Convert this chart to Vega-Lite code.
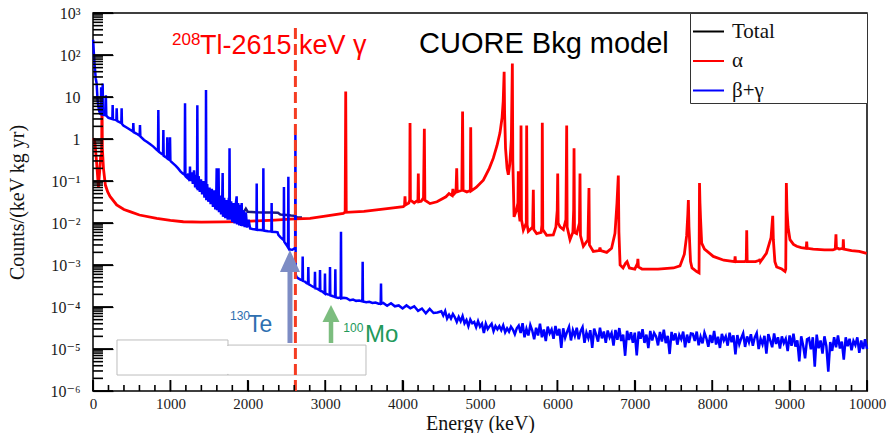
{
  "$schema": "https://vega.github.io/schema/vega-lite/v6.json",
  "width": 774,
  "height": 378,
  "autosize": {"type": "none"},
  "padding": {"left": 93, "top": 13, "right": 20, "bottom": 42},
  "background": "white",
  "resolve": {"axis": {"x": "independent", "y": "independent"}},
  "config": {
    "view": {"stroke": "#000", "strokeWidth": 1.5},
    "axis": {
      "grid": false,
      "domain": false,
      "ticks": true,
      "tickColor": "#000000",
      "tickOpacity": 1,
      "tickWidth": 1.2,
      "zindex": 1,
      "labelFont": "Liberation Serif, DejaVu Serif",
      "labelColor": "#1a1a1a",
      "titleFont": "Liberation Serif",
      "titleFontSize": 20,
      "titleFontWeight": "normal",
      "titleColor": "#111"
    },
    "legend": {
      "orient": "top-right",
      "offset": 0,
      "padding": 2,
      "strokeColor": "#333",
      "fillColor": "white",
      "symbolType": "stroke",
      "symbolSize": 961,
      "symbolStrokeWidth": 2,
      "labelFont": "Liberation Serif",
      "labelFontSize": 21,
      "labelColor": "#111",
      "labelOffset": 7,
      "labelLimit": 300,
      "rowPadding": 2.5
    }
  },
  "datasets": {
    "ymajor": [
      {"v": 0.000001}, {"v": 0.00001}, {"v": 0.0001}, {"v": 0.001}, {"v": 0.01},
      {"v": 0.1}, {"v": 1}, {"v": 10}, {"v": 100}, {"v": 1000}
    ],
    "yminor": [
      {"v": 0.000002}, {"v": 0.000003}, {"v": 0.000004}, {"v": 0.000005}, {"v": 0.000006}, {"v": 0.000007}, {"v": 0.000008}, {"v": 0.000009},
      {"v": 0.00002}, {"v": 0.00003}, {"v": 0.00004}, {"v": 0.00005}, {"v": 0.00006}, {"v": 0.00007}, {"v": 0.00008}, {"v": 0.00009},
      {"v": 0.0002}, {"v": 0.0003}, {"v": 0.0004}, {"v": 0.0005}, {"v": 0.0006}, {"v": 0.0007}, {"v": 0.0008}, {"v": 0.0009},
      {"v": 0.002}, {"v": 0.003}, {"v": 0.004}, {"v": 0.005}, {"v": 0.006}, {"v": 0.007}, {"v": 0.008}, {"v": 0.009},
      {"v": 0.02}, {"v": 0.03}, {"v": 0.04}, {"v": 0.05}, {"v": 0.06}, {"v": 0.07}, {"v": 0.08}, {"v": 0.09},
      {"v": 0.2}, {"v": 0.3}, {"v": 0.4}, {"v": 0.5}, {"v": 0.6}, {"v": 0.7}, {"v": 0.8}, {"v": 0.9},
      {"v": 2}, {"v": 3}, {"v": 4}, {"v": 5}, {"v": 6}, {"v": 7}, {"v": 8}, {"v": 9},
      {"v": 20}, {"v": 30}, {"v": 40}, {"v": 50}, {"v": 60}, {"v": 70}, {"v": 80}, {"v": 90},
      {"v": 200}, {"v": 300}, {"v": 400}, {"v": 500}, {"v": 600}, {"v": 700}, {"v": 800}, {"v": 900}
    ],
    "xmajor": [
      {"v": 0}, {"v": 1000}, {"v": 2000}, {"v": 3000}, {"v": 4000}, {"v": 5000},
      {"v": 6000}, {"v": 7000}, {"v": 8000}, {"v": 9000}, {"v": 10000}
    ],
    "xminor": [
      {"v": 200}, {"v": 400}, {"v": 600}, {"v": 800}, {"v": 1200}, {"v": 1400}, {"v": 1600}, {"v": 1800},
      {"v": 2200}, {"v": 2400}, {"v": 2600}, {"v": 2800}, {"v": 3200}, {"v": 3400}, {"v": 3600}, {"v": 3800},
      {"v": 4200}, {"v": 4400}, {"v": 4600}, {"v": 4800}, {"v": 5200}, {"v": 5400}, {"v": 5600}, {"v": 5800},
      {"v": 6200}, {"v": 6400}, {"v": 6600}, {"v": 6800}, {"v": 7200}, {"v": 7400}, {"v": 7600}, {"v": 7800},
      {"v": 8200}, {"v": 8400}, {"v": 8600}, {"v": 8800}, {"v": 9200}, {"v": 9400}, {"v": 9600}, {"v": 9800}
    ],
    "total": [
      {"E": 1650, "c": 0.028}, {"E": 1700, "c": 0.025}, {"E": 1750, "c": 0.023}, {"E": 1800, "c": 0.021},
      {"E": 1850, "c": 0.02}, {"E": 1880, "c": 0.022}, {"E": 1900, "c": 0.019}, {"E": 1950, "c": 0.0185},
      {"E": 1975, "c": 0.022}, {"E": 2000, "c": 0.0185}, {"E": 2100, "c": 0.018}, {"E": 2200, "c": 0.0178},
      {"E": 2300, "c": 0.0178}, {"E": 2390, "c": 0.0175}, {"E": 2420, "c": 0.016}, {"E": 2500, "c": 0.0155},
      {"E": 2560, "c": 0.015}, {"E": 2600, "c": 0.0148}, {"E": 2640, "c": 0.0135}, {"E": 2700, "c": 0.0135}
    ],
    "alpha": [
      {"E": 10, "c": 1.05, "s": "α"}, {"E": 25, "c": 0.8, "s": "α"}, {"E": 45, "c": 0.3, "s": "α"},
      {"E": 70, "c": 0.072, "s": "α"}, {"E": 85, "c": 0.16, "s": "α"}, {"E": 100, "c": 0.4, "s": "α"},
      {"E": 112, "c": 0.42, "s": "α"}, {"E": 116, "c": 13, "s": "α"}, {"E": 121, "c": 0.6, "s": "α"},
      {"E": 135, "c": 0.2, "s": "α"}, {"E": 160, "c": 0.08, "s": "α"}, {"E": 190, "c": 0.055, "s": "α"},
      {"E": 220, "c": 0.043, "s": "α"}, {"E": 306, "c": 0.027, "s": "α"}, {"E": 400, "c": 0.021, "s": "α"},
      {"E": 478, "c": 0.0186, "s": "α"}, {"E": 600, "c": 0.0155, "s": "α"}, {"E": 823, "c": 0.0129, "s": "α"},
      {"E": 1000, "c": 0.0115, "s": "α"}, {"E": 1167, "c": 0.0107, "s": "α"}, {"E": 1400, "c": 0.0105, "s": "α"},
      {"E": 1684, "c": 0.0106, "s": "α"}, {"E": 1900, "c": 0.0108, "s": "α"}, {"E": 2115, "c": 0.0112, "s": "α"},
      {"E": 2350, "c": 0.0117, "s": "α"}, {"E": 2545, "c": 0.0123, "s": "α"}, {"E": 2804, "c": 0.0129, "s": "α"},
      {"E": 3000, "c": 0.0145, "s": "α"}, {"E": 3234, "c": 0.017, "s": "α"}, {"E": 3258, "c": 0.018, "s": "α"},
      {"E": 3265, "c": 13.5, "s": "α"}, {"E": 3272, "c": 0.018, "s": "α"}, {"E": 3500, "c": 0.019, "s": "α"},
      {"E": 3800, "c": 0.022, "s": "α"}, {"E": 4009, "c": 0.0245, "s": "α"}, {"E": 4025, "c": 0.026, "s": "α"},
      {"E": 4031, "c": 0.043, "s": "α"}, {"E": 4037, "c": 0.027, "s": "α"}, {"E": 4080, "c": 0.03, "s": "α"},
      {"E": 4092, "c": 0.035, "s": "α"}, {"E": 4096, "c": 2.4, "s": "α"}, {"E": 4101, "c": 0.035, "s": "α"},
      {"E": 4150, "c": 0.03, "s": "α"}, {"E": 4198, "c": 0.035, "s": "α"}, {"E": 4203, "c": 0.15, "s": "α"},
      {"E": 4208, "c": 0.032, "s": "α"}, {"E": 4240, "c": 0.033, "s": "α"}, {"E": 4270, "c": 0.04, "s": "α"},
      {"E": 4281, "c": 1.75, "s": "α"}, {"E": 4288, "c": 0.035, "s": "α"}, {"E": 4354, "c": 0.029, "s": "α"},
      {"E": 4444, "c": 0.032, "s": "α"}, {"E": 4560, "c": 0.042, "s": "α"}, {"E": 4600, "c": 0.05, "s": "α"},
      {"E": 4640, "c": 0.045, "s": "α"}, {"E": 4650, "c": 0.065, "s": "α"}, {"E": 4660, "c": 0.048, "s": "α"},
      {"E": 4690, "c": 0.055, "s": "α"}, {"E": 4699, "c": 0.2, "s": "α"}, {"E": 4706, "c": 0.055, "s": "α"},
      {"E": 4765, "c": 0.06, "s": "α"}, {"E": 4775, "c": 4.5, "s": "α"}, {"E": 4782, "c": 0.06, "s": "α"},
      {"E": 4830, "c": 0.055, "s": "α"}, {"E": 4875, "c": 0.06, "s": "α"}, {"E": 4880, "c": 1.9, "s": "α"},
      {"E": 4886, "c": 0.058, "s": "α"}, {"E": 4950, "c": 0.07, "s": "α"}, {"E": 5043, "c": 0.105, "s": "α"},
      {"E": 5120, "c": 0.2, "s": "α"}, {"E": 5172, "c": 0.35, "s": "α"}, {"E": 5220, "c": 0.7, "s": "α"},
      {"E": 5258, "c": 1.4, "s": "α"}, {"E": 5285, "c": 3.2, "s": "α"}, {"E": 5300, "c": 8, "s": "α"},
      {"E": 5312, "c": 40, "s": "α"}, {"E": 5318, "c": 4, "s": "α"}, {"E": 5330, "c": 0.6, "s": "α"},
      {"E": 5350, "c": 0.2, "s": "α"}, {"E": 5366, "c": 0.14, "s": "α"}, {"E": 5385, "c": 0.25, "s": "α"},
      {"E": 5405, "c": 1.0, "s": "α"}, {"E": 5418, "c": 63, "s": "α"}, {"E": 5424, "c": 0.3, "s": "α"},
      {"E": 5440, "c": 0.014, "s": "α"}, {"E": 5470, "c": 0.02, "s": "α"}, {"E": 5490, "c": 0.03, "s": "α"},
      {"E": 5495, "c": 0.17, "s": "α"}, {"E": 5500, "c": 0.02, "s": "α"}, {"E": 5517, "c": 0.011, "s": "α"},
      {"E": 5526, "c": 0.02, "s": "α"}, {"E": 5530, "c": 2.1, "s": "α"}, {"E": 5536, "c": 0.012, "s": "α"},
      {"E": 5560, "c": 0.0068, "s": "α"}, {"E": 5598, "c": 0.01, "s": "α"}, {"E": 5603, "c": 2.1, "s": "α"},
      {"E": 5609, "c": 0.009, "s": "α"}, {"E": 5624, "c": 0.0063, "s": "α"}, {"E": 5680, "c": 0.008, "s": "α"},
      {"E": 5689, "c": 0.062, "s": "α"}, {"E": 5695, "c": 0.007, "s": "α"}, {"E": 5732, "c": 0.0056, "s": "α"},
      {"E": 5790, "c": 0.006, "s": "α"}, {"E": 5800, "c": 0.009, "s": "α"}, {"E": 5805, "c": 2.45, "s": "α"},
      {"E": 5811, "c": 0.007, "s": "α"}, {"E": 5861, "c": 0.0051, "s": "α"}, {"E": 5947, "c": 0.0052, "s": "α"},
      {"E": 5981, "c": 0.0081, "s": "α"}, {"E": 5998, "c": 0.02, "s": "α"}, {"E": 6004, "c": 0.15, "s": "α"},
      {"E": 6010, "c": 0.01, "s": "α"}, {"E": 6034, "c": 0.0081, "s": "α"}, {"E": 6077, "c": 0.007, "s": "α"},
      {"E": 6110, "c": 0.012, "s": "α"}, {"E": 6120, "c": 2.1, "s": "α"}, {"E": 6126, "c": 0.008, "s": "α"},
      {"E": 6163, "c": 0.004, "s": "α"}, {"E": 6200, "c": 0.006, "s": "α"}, {"E": 6210, "c": 0.02, "s": "α"},
      {"E": 6215, "c": 0.6, "s": "α"}, {"E": 6221, "c": 0.006, "s": "α"}, {"E": 6249, "c": 0.0056, "s": "α"},
      {"E": 6285, "c": 0.01, "s": "α"}, {"E": 6292, "c": 0.15, "s": "α"}, {"E": 6298, "c": 0.005, "s": "α"},
      {"E": 6335, "c": 0.0028, "s": "α"}, {"E": 6395, "c": 0.004, "s": "α"}, {"E": 6408, "c": 0.068, "s": "α"},
      {"E": 6414, "c": 0.003, "s": "α"}, {"E": 6464, "c": 0.0021, "s": "α"}, {"E": 6540, "c": 0.0022, "s": "α"},
      {"E": 6550, "c": 0.0026, "s": "α"}, {"E": 6560, "c": 0.0022, "s": "α"}, {"E": 6637, "c": 0.002, "s": "α"},
      {"E": 6700, "c": 0.0025, "s": "α"}, {"E": 6744, "c": 0.0057, "s": "α"}, {"E": 6770, "c": 0.03, "s": "α"},
      {"E": 6787, "c": 0.135, "s": "α"}, {"E": 6795, "c": 0.006, "s": "α"}, {"E": 6810, "c": 0.001, "s": "α"},
      {"E": 6848, "c": 0.00085, "s": "α"}, {"E": 6880, "c": 0.0011, "s": "α"}, {"E": 6900, "c": 0.0012, "s": "α"},
      {"E": 6930, "c": 0.00085, "s": "α"}, {"E": 7000, "c": 0.0008, "s": "α"}, {"E": 7035, "c": 0.0011, "s": "α"},
      {"E": 7040, "c": 0.0014, "s": "α"}, {"E": 7047, "c": 0.0009, "s": "α"}, {"E": 7093, "c": 0.0008, "s": "α"},
      {"E": 7300, "c": 0.0008, "s": "α"}, {"E": 7500, "c": 0.00085, "s": "α"}, {"E": 7584, "c": 0.00095, "s": "α"},
      {"E": 7640, "c": 0.0018, "s": "α"}, {"E": 7670, "c": 0.005, "s": "α"}, {"E": 7685, "c": 0.016, "s": "α"},
      {"E": 7692, "c": 0.035, "s": "α"}, {"E": 7700, "c": 0.008, "s": "α"}, {"E": 7720, "c": 0.0012, "s": "α"},
      {"E": 7739, "c": 0.00085, "s": "α"}, {"E": 7800, "c": 0.0007, "s": "α"}, {"E": 7830, "c": 0.00065, "s": "α"},
      {"E": 7836, "c": 0.089, "s": "α"}, {"E": 7842, "c": 0.03, "s": "α"}, {"E": 7850, "c": 0.012, "s": "α"},
      {"E": 7864, "c": 0.0033, "s": "α"}, {"E": 7900, "c": 0.0024, "s": "α"}, {"E": 8014, "c": 0.0016, "s": "α"},
      {"E": 8150, "c": 0.0013, "s": "α"}, {"E": 8290, "c": 0.0012, "s": "α"}, {"E": 8296, "c": 0.0016, "s": "α"},
      {"E": 8302, "c": 0.0012, "s": "α"}, {"E": 8420, "c": 0.0012, "s": "α"}, {"E": 8440, "c": 0.0013, "s": "α"},
      {"E": 8446, "c": 0.0067, "s": "α"}, {"E": 8452, "c": 0.0012, "s": "α"}, {"E": 8560, "c": 0.0012, "s": "α"},
      {"E": 8612, "c": 0.0013, "s": "α"}, {"E": 8618, "c": 0.0014, "s": "α"}, {"E": 8624, "c": 0.0012, "s": "α"},
      {"E": 8700, "c": 0.0019, "s": "α"}, {"E": 8760, "c": 0.0045, "s": "α"}, {"E": 8782, "c": 0.0148, "s": "α"},
      {"E": 8790, "c": 0.004, "s": "α"}, {"E": 8810, "c": 0.0012, "s": "α"}, {"E": 8833, "c": 0.0009, "s": "α"},
      {"E": 8900, "c": 0.0008, "s": "α"}, {"E": 8941, "c": 0.0007, "s": "α"}, {"E": 8950, "c": 0.0008, "s": "α"},
      {"E": 8958, "c": 0.09, "s": "α"}, {"E": 8966, "c": 0.02, "s": "α"}, {"E": 8980, "c": 0.008, "s": "α"},
      {"E": 9005, "c": 0.004, "s": "α"}, {"E": 9050, "c": 0.0031, "s": "α"}, {"E": 9092, "c": 0.0028, "s": "α"},
      {"E": 9150, "c": 0.0026, "s": "α"}, {"E": 9215, "c": 0.0025, "s": "α"}, {"E": 9221, "c": 0.0036, "s": "α"},
      {"E": 9227, "c": 0.0025, "s": "α"}, {"E": 9305, "c": 0.0024, "s": "α"}, {"E": 9450, "c": 0.0023, "s": "α"},
      {"E": 9560, "c": 0.0023, "s": "α"}, {"E": 9590, "c": 0.0024, "s": "α"}, {"E": 9599, "c": 0.0054, "s": "α"},
      {"E": 9605, "c": 0.0026, "s": "α"}, {"E": 9640, "c": 0.0024, "s": "α"}, {"E": 9690, "c": 0.0025, "s": "α"},
      {"E": 9694, "c": 0.0041, "s": "α"}, {"E": 9700, "c": 0.0024, "s": "α"}, {"E": 9800, "c": 0.0022, "s": "α"},
      {"E": 9900, "c": 0.0021, "s": "α"}, {"E": 9996, "c": 0.0019, "s": "α"}
    ],
    "beta": [
      {"E": 2, "c": 230, "s": "β+γ"}, {"E": 10, "c": 120, "s": "β+γ"}, {"E": 22, "c": 55, "s": "β+γ"},
      {"E": 35, "c": 28, "s": "β+γ"}, {"E": 47, "c": 21, "s": "β+γ"}, {"E": 58, "c": 9, "s": "β+γ"},
      {"E": 69, "c": 6, "s": "β+γ"}, {"E": 80, "c": 4.6, "s": "β+γ"}, {"E": 95, "c": 4.0, "s": "β+γ"},
      {"E": 102, "c": 4.0, "s": "β+γ"}, {"E": 105, "c": 17, "s": "β+γ"}, {"E": 109, "c": 3.9, "s": "β+γ"},
      {"E": 120, "c": 3.9, "s": "β+γ"}, {"E": 125, "c": 21, "s": "β+γ"}, {"E": 130, "c": 3.8, "s": "β+γ"},
      {"E": 160, "c": 3.7, "s": "β+γ"}, {"E": 166, "c": 11, "s": "β+γ"}, {"E": 172, "c": 3.6, "s": "β+γ"},
      {"E": 200, "c": 3.2, "s": "β+γ"}, {"E": 250, "c": 3.0, "s": "β+γ"}, {"E": 254, "c": 6.4, "s": "β+γ"},
      {"E": 258, "c": 3.0, "s": "β+γ"}, {"E": 302, "c": 2.8, "s": "β+γ"}, {"E": 306, "c": 5.4, "s": "β+γ"},
      {"E": 311, "c": 2.7, "s": "β+γ"}, {"E": 366, "c": 2.4, "s": "β+γ"}, {"E": 370, "c": 5.4, "s": "β+γ"},
      {"E": 374, "c": 2.3, "s": "β+γ"}, {"E": 392, "c": 2.1, "s": "β+γ"}, {"E": 450, "c": 1.8, "s": "β+γ"},
      {"E": 517, "c": 1.5, "s": "β+γ"}, {"E": 521, "c": 2.4, "s": "β+γ"}, {"E": 526, "c": 1.45, "s": "β+γ"},
      {"E": 560, "c": 1.35, "s": "β+γ"}, {"E": 603, "c": 1.2, "s": "β+γ"}, {"E": 607, "c": 2.15, "s": "β+γ"},
      {"E": 612, "c": 1.15, "s": "β+γ"}, {"E": 660, "c": 0.95, "s": "β+γ"}, {"E": 700, "c": 0.85, "s": "β+γ"},
      {"E": 740, "c": 0.75, "s": "β+γ"}, {"E": 780, "c": 0.66, "s": "β+γ"}, {"E": 823, "c": 0.55, "s": "β+γ"},
      {"E": 840, "c": 0.52, "s": "β+γ"}, {"E": 844, "c": 4.9, "s": "β+γ"}, {"E": 849, "c": 0.5, "s": "β+γ"},
      {"E": 880, "c": 0.45, "s": "β+γ"}, {"E": 905, "c": 0.42, "s": "β+γ"}, {"E": 909, "c": 1.64, "s": "β+γ"},
      {"E": 913, "c": 0.4, "s": "β+γ"}, {"E": 940, "c": 0.37, "s": "β+γ"}, {"E": 956, "c": 0.35, "s": "β+γ"},
      {"E": 960, "c": 1.1, "s": "β+γ"}, {"E": 964, "c": 0.34, "s": "β+γ"}, {"E": 990, "c": 0.32, "s": "β+γ"},
      {"E": 995, "c": 1.1, "s": "β+γ"}, {"E": 1000, "c": 0.3, "s": "β+γ"}, {"E": 1038, "c": 0.26, "s": "β+γ"},
      {"E": 1070, "c": 0.23, "s": "β+γ"}, {"E": 1100, "c": 0.2, "s": "β+γ"}, {"E": 1130, "c": 0.17, "s": "β+γ"},
      {"E": 1160, "c": 0.15, "s": "β+γ"}, {"E": 1185, "c": 0.14, "s": "β+γ"}, {"E": 1189, "c": 7.1, "s": "β+γ"},
      {"E": 1194, "c": 0.13, "s": "β+γ"}, {"E": 1215, "c": 0.12, "s": "β+γ"}, {"E": 1230, "c": 0.15, "s": "β+γ"},
      {"E": 1240, "c": 0.11, "s": "β+γ"}, {"E": 1249, "c": 0.1, "s": "β+γ"}, {"E": 1253, "c": 0.22, "s": "β+γ"},
      {"E": 1258, "c": 0.1, "s": "β+γ"}, {"E": 1275, "c": 0.16, "s": "β+γ"}, {"E": 1290, "c": 0.085, "s": "β+γ"},
      {"E": 1305, "c": 0.18, "s": "β+γ"}, {"E": 1320, "c": 0.07, "s": "β+γ"}, {"E": 1335, "c": 0.14, "s": "β+γ"},
      {"E": 1344, "c": 0.065, "s": "β+γ"}, {"E": 1348, "c": 6.4, "s": "β+γ"}, {"E": 1353, "c": 0.06, "s": "β+γ"},
      {"E": 1365, "c": 0.13, "s": "β+γ"}, {"E": 1380, "c": 0.055, "s": "β+γ"}, {"E": 1395, "c": 0.11, "s": "β+γ"},
      {"E": 1410, "c": 0.048, "s": "β+γ"}, {"E": 1425, "c": 0.1, "s": "β+γ"}, {"E": 1440, "c": 0.04, "s": "β+γ"},
      {"E": 1452, "c": 0.08, "s": "β+γ"}, {"E": 1457, "c": 0.04, "s": "β+γ"}, {"E": 1460, "c": 14.7, "s": "β+γ"},
      {"E": 1464, "c": 0.035, "s": "β+γ"}, {"E": 1475, "c": 0.085, "s": "β+γ"}, {"E": 1490, "c": 0.032, "s": "β+γ"},
      {"E": 1505, "c": 0.07, "s": "β+γ"}, {"E": 1520, "c": 0.028, "s": "β+γ"}, {"E": 1535, "c": 0.065, "s": "β+γ"},
      {"E": 1550, "c": 0.024, "s": "β+γ"}, {"E": 1565, "c": 0.06, "s": "β+γ"}, {"E": 1580, "c": 0.021, "s": "β+γ"},
      {"E": 1593, "c": 0.05, "s": "β+γ"}, {"E": 1598, "c": 0.2, "s": "β+γ"}, {"E": 1603, "c": 0.02, "s": "β+γ"},
      {"E": 1615, "c": 0.055, "s": "β+γ"}, {"E": 1622, "c": 0.2, "s": "β+γ"}, {"E": 1628, "c": 0.018, "s": "β+γ"},
      {"E": 1640, "c": 0.045, "s": "β+γ"}, {"E": 1655, "c": 0.016, "s": "β+γ"}, {"E": 1670, "c": 0.04, "s": "β+γ"},
      {"E": 1675, "c": 0.155, "s": "β+γ"}, {"E": 1680, "c": 0.014, "s": "β+γ"}, {"E": 1695, "c": 0.04, "s": "β+γ"},
      {"E": 1710, "c": 0.013, "s": "β+γ"}, {"E": 1725, "c": 0.035, "s": "β+γ"}, {"E": 1740, "c": 0.012, "s": "β+γ"},
      {"E": 1755, "c": 0.04, "s": "β+γ"}, {"E": 1760, "c": 0.012, "s": "β+γ"}, {"E": 1764, "c": 0.6, "s": "β+γ"},
      {"E": 1769, "c": 0.012, "s": "β+γ"}, {"E": 1785, "c": 0.033, "s": "β+γ"}, {"E": 1800, "c": 0.0105, "s": "β+γ"},
      {"E": 1815, "c": 0.03, "s": "β+γ"}, {"E": 1830, "c": 0.0098, "s": "β+γ"}, {"E": 1845, "c": 0.028, "s": "β+γ"},
      {"E": 1856, "c": 0.043, "s": "β+γ"}, {"E": 1862, "c": 0.0092, "s": "β+γ"}, {"E": 1875, "c": 0.03, "s": "β+γ"},
      {"E": 1890, "c": 0.0088, "s": "β+γ"}, {"E": 1905, "c": 0.027, "s": "β+γ"}, {"E": 1915, "c": 0.0085, "s": "β+γ"},
      {"E": 1921, "c": 0.03, "s": "β+γ"}, {"E": 1927, "c": 0.0084, "s": "β+γ"}, {"E": 1945, "c": 0.02, "s": "β+γ"},
      {"E": 1960, "c": 0.008, "s": "β+γ"}, {"E": 1975, "c": 0.018, "s": "β+γ"}, {"E": 1990, "c": 0.0078, "s": "β+γ"},
      {"E": 2010, "c": 0.012, "s": "β+γ"}, {"E": 2030, "c": 0.0074, "s": "β+γ"}, {"E": 2060, "c": 0.0072, "s": "β+γ"},
      {"E": 2100, "c": 0.007, "s": "β+γ"}, {"E": 2112, "c": 0.0069, "s": "β+γ"}, {"E": 2115, "c": 0.087, "s": "β+γ"},
      {"E": 2118, "c": 0.0069, "s": "β+γ"}, {"E": 2160, "c": 0.0068, "s": "β+γ"}, {"E": 2198, "c": 0.0067, "s": "β+γ"},
      {"E": 2201, "c": 0.2, "s": "β+γ"}, {"E": 2205, "c": 0.0066, "s": "β+γ"}, {"E": 2260, "c": 0.0064, "s": "β+γ"},
      {"E": 2305, "c": 0.0063, "s": "β+γ"}, {"E": 2308, "c": 0.03, "s": "β+γ"}, {"E": 2312, "c": 0.0062, "s": "β+γ"},
      {"E": 2360, "c": 0.0061, "s": "β+γ"}, {"E": 2385, "c": 0.006, "s": "β+γ"}, {"E": 2395, "c": 0.0052, "s": "β+γ"},
      {"E": 2420, "c": 0.0046, "s": "β+γ"}, {"E": 2459, "c": 0.004, "s": "β+γ"}, {"E": 2464, "c": 0.0039, "s": "β+γ"},
      {"E": 2467, "c": 0.072, "s": "β+γ"}, {"E": 2471, "c": 0.0036, "s": "β+γ"}, {"E": 2500, "c": 0.003, "s": "β+γ"},
      {"E": 2520, "c": 0.0026, "s": "β+γ"}, {"E": 2524, "c": 0.126, "s": "β+γ"}, {"E": 2528, "c": 0.0025, "s": "β+γ"},
      {"E": 2545, "c": 0.00234, "s": "β+γ"}, {"E": 2575, "c": 0.0023, "s": "β+γ"}, {"E": 2605, "c": 0.0025, "s": "β+γ"},
      {"E": 2612, "c": 0.0026, "s": "β+γ"}, {"E": 2615, "c": 1.25, "s": "β+γ"}, {"E": 2619, "c": 0.0006, "s": "β+γ"},
      {"E": 2630, "c": 0.00052, "s": "β+γ"}, {"E": 2653, "c": 0.00048, "s": "β+γ"}, {"E": 2680, "c": 0.00045, "s": "β+γ"},
      {"E": 2705, "c": 0.00043, "s": "β+γ"}, {"E": 2709, "c": 0.0016, "s": "β+γ"}, {"E": 2713, "c": 0.00042, "s": "β+γ"},
      {"E": 2740, "c": 0.0004, "s": "β+γ"}, {"E": 2760, "c": 0.00037, "s": "β+γ"}, {"E": 2778, "c": 0.00036, "s": "β+γ"},
      {"E": 2782, "c": 0.0009, "s": "β+γ"}, {"E": 2786, "c": 0.00035, "s": "β+γ"}, {"E": 2810, "c": 0.00033, "s": "β+γ"},
      {"E": 2846, "c": 0.0003, "s": "β+γ"}, {"E": 2864, "c": 0.00029, "s": "β+γ"}, {"E": 2868, "c": 0.00069, "s": "β+γ"},
      {"E": 2872, "c": 0.00028, "s": "β+γ"}, {"E": 2900, "c": 0.00027, "s": "β+γ"}, {"E": 2929, "c": 0.00025, "s": "β+γ"},
      {"E": 2933, "c": 0.00076, "s": "β+γ"}, {"E": 2937, "c": 0.00025, "s": "β+γ"}, {"E": 2965, "c": 0.00023, "s": "β+γ"},
      {"E": 2993, "c": 0.00021, "s": "β+γ"}, {"E": 2997, "c": 0.00063, "s": "β+γ"}, {"E": 3001, "c": 0.00021, "s": "β+γ"},
      {"E": 3030, "c": 0.0002, "s": "β+γ"}, {"E": 3058, "c": 0.000195, "s": "β+γ"}, {"E": 3062, "c": 0.0009, "s": "β+γ"},
      {"E": 3066, "c": 0.00019, "s": "β+γ"}, {"E": 3100, "c": 0.00018, "s": "β+γ"}, {"E": 3127, "c": 0.000175, "s": "β+γ"},
      {"E": 3131, "c": 0.00079, "s": "β+γ"}, {"E": 3135, "c": 0.00017, "s": "β+γ"}, {"E": 3170, "c": 0.000165, "s": "β+γ"},
      {"E": 3200, "c": 0.00017, "s": "β+γ"}, {"E": 3204, "c": 0.0062, "s": "β+γ"}, {"E": 3208, "c": 0.00016, "s": "β+γ"},
      {"E": 3240, "c": 0.000165, "s": "β+γ"}, {"E": 3277, "c": 0.000162, "s": "β+γ"}, {"E": 3320, "c": 0.000145, "s": "β+γ"},
      {"E": 3360, "c": 0.00015, "s": "β+γ"}, {"E": 3400, "c": 0.00014, "s": "β+γ"}, {"E": 3440, "c": 0.000142, "s": "β+γ"},
      {"E": 3480, "c": 0.000136, "s": "β+γ"}, {"E": 3484, "c": 0.0012, "s": "β+γ"}, {"E": 3488, "c": 0.000135, "s": "β+γ"},
      {"E": 3530, "c": 0.00013, "s": "β+γ"}, {"E": 3570, "c": 0.000133, "s": "β+γ"}, {"E": 3610, "c": 0.000125, "s": "β+γ"},
      {"E": 3650, "c": 0.000128, "s": "β+γ"}, {"E": 3690, "c": 0.00012, "s": "β+γ"}, {"E": 3717, "c": 0.00012, "s": "β+γ"},
      {"E": 3721, "c": 0.00036, "s": "β+γ"}, {"E": 3725, "c": 0.00012, "s": "β+γ"}, {"E": 3750, "c": 0.000125, "s": "β+γ"},
      {"E": 3800, "c": 0.000107, "s": "β+γ"}, {"E": 3850, "c": 0.000123, "s": "β+γ"}, {"E": 3900, "c": 0.000104, "s": "β+γ"},
      {"E": 3950, "c": 0.000109, "s": "β+γ"}, {"E": 4000, "c": 0.000092, "s": "β+γ"}, {"E": 4050, "c": 0.000109, "s": "β+γ"},
      {"E": 4100, "c": 0.000093, "s": "β+γ"}, {"E": 4150, "c": 0.000104, "s": "β+γ"}, {"E": 4200, "c": 0.000081, "s": "β+γ"},
      {"E": 4250, "c": 0.000092, "s": "β+γ"}, {"E": 4300, "c": 0.000071, "s": "β+γ"}, {"E": 4350, "c": 0.00009, "s": "β+γ"},
      {"E": 4400, "c": 0.000072, "s": "β+γ"}, {"E": 4450, "c": 0.000074, "s": "β+γ"},
      {"E": 4500, "c": 0.000079, "s": "β+γ"}, {"E": 4525, "c": 0.000063, "s": "β+γ"}, {"E": 4550, "c": 0.00008, "s": "β+γ"},
      {"E": 4575, "c": 0.000053, "s": "β+γ"}, {"E": 4600, "c": 0.000065, "s": "β+γ"}, {"E": 4625, "c": 0.000053, "s": "β+γ"},
      {"E": 4650, "c": 0.000068, "s": "β+γ"}, {"E": 4675, "c": 0.000057, "s": "β+γ"}, {"E": 4700, "c": 0.000044, "s": "β+γ"},
      {"E": 4725, "c": 0.000058, "s": "β+γ"}, {"E": 4750, "c": 0.000046, "s": "β+γ"}, {"E": 4775, "c": 0.000061, "s": "β+γ"},
      {"E": 4800, "c": 0.000041, "s": "β+γ"}, {"E": 4825, "c": 0.000049, "s": "β+γ"}, {"E": 4850, "c": 0.000035, "s": "β+γ"},
      {"E": 4875, "c": 0.00005, "s": "β+γ"}, {"E": 4900, "c": 0.000041, "s": "β+γ"}, {"E": 4925, "c": 0.000044, "s": "β+γ"},
      {"E": 4950, "c": 0.000033, "s": "β+γ"}, {"E": 4975, "c": 0.000046, "s": "β+γ"}, {"E": 5000, "c": 0.000034, "s": "β+γ"},
      {"E": 5025, "c": 0.00004, "s": "β+γ"}, {"E": 5050, "c": 0.000024, "s": "β+γ"}, {"E": 5075, "c": 0.00004, "s": "β+γ"},
      {"E": 5100, "c": 0.00003, "s": "β+γ"}, {"E": 5125, "c": 0.000035, "s": "β+γ"}, {"E": 5150, "c": 0.00004, "s": "β+γ"},
      {"E": 5175, "c": 0.0000265, "s": "β+γ"}, {"E": 5200, "c": 0.000035, "s": "β+γ"}, {"E": 5225, "c": 0.0000295, "s": "β+γ"},
      {"E": 5250, "c": 0.000035, "s": "β+γ"}, {"E": 5275, "c": 0.000028, "s": "β+γ"}, {"E": 5300, "c": 0.0000365, "s": "β+γ"},
      {"E": 5325, "c": 0.000025, "s": "β+γ"}, {"E": 5350, "c": 0.000031, "s": "β+γ"}, {"E": 5375, "c": 0.000026, "s": "β+γ"},
      {"E": 5400, "c": 0.000034, "s": "β+γ"}, {"E": 5425, "c": 0.000029, "s": "β+γ"}, {"E": 5450, "c": 0.0000225, "s": "β+γ"},
      {"E": 5475, "c": 0.000031, "s": "β+γ"}, {"E": 5500, "c": 0.000036, "s": "β+γ"}, {"E": 5525, "c": 0.000024, "s": "β+γ"},
      {"E": 5550, "c": 0.000041, "s": "β+γ"}, {"E": 5575, "c": 0.000019, "s": "β+γ"}, {"E": 5600, "c": 0.00003, "s": "β+γ"},
      {"E": 5625, "c": 0.000021, "s": "β+γ"}, {"E": 5650, "c": 0.000037, "s": "β+γ"}, {"E": 5675, "c": 0.0000275, "s": "β+γ"},
      {"E": 5700, "c": 0.000017, "s": "β+γ"}, {"E": 5725, "c": 0.000032, "s": "β+γ"}, {"E": 5750, "c": 0.000021, "s": "β+γ"},
      {"E": 5775, "c": 0.00004, "s": "β+γ"}, {"E": 5800, "c": 0.000019, "s": "β+γ"}, {"E": 5825, "c": 0.000029, "s": "β+γ"},
      {"E": 5850, "c": 0.0000155, "s": "β+γ"}, {"E": 5875, "c": 0.000034, "s": "β+γ"}, {"E": 5900, "c": 0.0000235, "s": "β+γ"},
      {"E": 5925, "c": 0.000029, "s": "β+γ"}, {"E": 5950, "c": 0.0000175, "s": "β+γ"}, {"E": 5975, "c": 0.0000355, "s": "β+γ"},
      {"E": 6000, "c": 0.000021, "s": "β+γ"}, {"E": 6025, "c": 0.00003, "s": "β+γ"}, {"E": 6050, "c": 0.0000107, "s": "β+γ"},
      {"E": 6075, "c": 0.000031, "s": "β+γ"}, {"E": 6100, "c": 0.0000185, "s": "β+γ"}, {"E": 6125, "c": 0.0000255, "s": "β+γ"},
      {"E": 6150, "c": 0.0000335, "s": "β+γ"}, {"E": 6175, "c": 0.000016, "s": "β+γ"}, {"E": 6200, "c": 0.000028, "s": "β+γ"},
      {"E": 6225, "c": 0.0000205, "s": "β+γ"}, {"E": 6250, "c": 0.000032, "s": "β+γ"}, {"E": 6275, "c": 0.000017, "s": "β+γ"},
      {"E": 6300, "c": 0.0000265, "s": "β+γ"}, {"E": 6325, "c": 0.000033, "s": "β+γ"}, {"E": 6350, "c": 0.000014, "s": "β+γ"},
      {"E": 6375, "c": 0.0000245, "s": "β+γ"}, {"E": 6400, "c": 0.000018, "s": "β+γ"}, {"E": 6425, "c": 0.000028, "s": "β+γ"},
      {"E": 6450, "c": 0.0000107, "s": "β+γ"}, {"E": 6475, "c": 0.0000305, "s": "β+γ"}, {"E": 6500, "c": 0.000022, "s": "β+γ"},
      {"E": 6525, "c": 0.000015, "s": "β+γ"}, {"E": 6550, "c": 0.000032, "s": "β+γ"}, {"E": 6575, "c": 0.000018, "s": "β+γ"},
      {"E": 6600, "c": 0.000026, "s": "β+γ"}, {"E": 6625, "c": 0.000014, "s": "β+γ"}, {"E": 6650, "c": 0.0000275, "s": "β+γ"},
      {"E": 6675, "c": 0.000019, "s": "β+γ"}, {"E": 6700, "c": 0.000024, "s": "β+γ"}, {"E": 6725, "c": 0.000012, "s": "β+γ"},
      {"E": 6750, "c": 0.0000285, "s": "β+γ"}, {"E": 6775, "c": 0.0000165, "s": "β+γ"}, {"E": 6800, "c": 0.0000315, "s": "β+γ"},
      {"E": 6825, "c": 0.0000155, "s": "β+γ"}, {"E": 6850, "c": 0.000022, "s": "β+γ"}, {"E": 6875, "c": 0.0000069, "s": "β+γ"},
      {"E": 6900, "c": 0.000027, "s": "β+γ"}, {"E": 6925, "c": 0.0000165, "s": "β+γ"}, {"E": 6950, "c": 0.000025, "s": "β+γ"},
      {"E": 6975, "c": 0.000014, "s": "β+γ"}, {"E": 7000, "c": 0.0000245, "s": "β+γ"}, {"E": 7025, "c": 0.000007, "s": "β+γ"},
      {"E": 7050, "c": 0.000026, "s": "β+γ"}, {"E": 7075, "c": 0.0000175, "s": "β+γ"}, {"E": 7100, "c": 0.0000295, "s": "β+γ"},
      {"E": 7125, "c": 0.000014, "s": "β+γ"}, {"E": 7150, "c": 0.000022, "s": "β+γ"}, {"E": 7175, "c": 0.0000105, "s": "β+γ"},
      {"E": 7200, "c": 0.000027, "s": "β+γ"}, {"E": 7225, "c": 0.000016, "s": "β+γ"}, {"E": 7250, "c": 0.000024, "s": "β+γ"},
      {"E": 7275, "c": 0.00002, "s": "β+γ"}, {"E": 7300, "c": 0.0000122, "s": "β+γ"}, {"E": 7325, "c": 0.0000255, "s": "β+γ"},
      {"E": 7350, "c": 0.000015, "s": "β+γ"}, {"E": 7375, "c": 0.000029, "s": "β+γ"}, {"E": 7400, "c": 0.0000138, "s": "β+γ"},
      {"E": 7425, "c": 0.0000205, "s": "β+γ"}, {"E": 7450, "c": 0.0000076, "s": "β+γ"}, {"E": 7475, "c": 0.0000255, "s": "β+γ"},
      {"E": 7500, "c": 0.000016, "s": "β+γ"}, {"E": 7525, "c": 0.0000235, "s": "β+γ"}, {"E": 7550, "c": 0.0000127, "s": "β+γ"},
      {"E": 7575, "c": 0.0000215, "s": "β+γ"}, {"E": 7600, "c": 0.000017, "s": "β+γ"}, {"E": 7625, "c": 0.000026, "s": "β+γ"},
      {"E": 7650, "c": 0.000011, "s": "β+γ"}, {"E": 7675, "c": 0.000022, "s": "β+γ"}, {"E": 7700, "c": 0.000014, "s": "β+γ"},
      {"E": 7725, "c": 0.0000235, "s": "β+γ"}, {"E": 7750, "c": 0.000023, "s": "β+γ"}, {"E": 7775, "c": 0.0000155, "s": "β+γ"},
      {"E": 7800, "c": 0.000026, "s": "β+γ"}, {"E": 7825, "c": 0.0000123, "s": "β+γ"}, {"E": 7850, "c": 0.0000195, "s": "β+γ"},
      {"E": 7875, "c": 0.0000136, "s": "β+γ"}, {"E": 7900, "c": 0.0000245, "s": "β+γ"}, {"E": 7925, "c": 0.000018, "s": "β+γ"},
      {"E": 7950, "c": 0.0000113, "s": "β+γ"}, {"E": 7975, "c": 0.0000215, "s": "β+γ"}, {"E": 8000, "c": 0.000014, "s": "β+γ"},
      {"E": 8025, "c": 0.000027, "s": "β+γ"}, {"E": 8050, "c": 0.0000128, "s": "β+γ"}, {"E": 8075, "c": 0.0000195, "s": "β+γ"},
      {"E": 8100, "c": 0.0000106, "s": "β+γ"}, {"E": 8125, "c": 0.000023, "s": "β+γ"}, {"E": 8150, "c": 0.000016, "s": "β+γ"},
      {"E": 8175, "c": 0.00002, "s": "β+γ"}, {"E": 8200, "c": 0.000012, "s": "β+γ"}, {"E": 8225, "c": 0.0000245, "s": "β+γ"},
      {"E": 8250, "c": 0.0000145, "s": "β+γ"}, {"E": 8275, "c": 0.000021, "s": "β+γ"}, {"E": 8300, "c": 0.0000074, "s": "β+γ"},
      {"E": 8325, "c": 0.0000215, "s": "β+γ"}, {"E": 8350, "c": 0.000013, "s": "β+γ"}, {"E": 8375, "c": 0.000018, "s": "β+γ"},
      {"E": 8400, "c": 0.0000235, "s": "β+γ"}, {"E": 8425, "c": 0.0000112, "s": "β+γ"}, {"E": 8450, "c": 0.00002, "s": "β+γ"},
      {"E": 8475, "c": 0.0000145, "s": "β+γ"}, {"E": 8500, "c": 0.0000225, "s": "β+γ"}, {"E": 8525, "c": 0.000012, "s": "β+γ"},
      {"E": 8550, "c": 0.000019, "s": "β+γ"}, {"E": 8575, "c": 0.000024, "s": "β+γ"}, {"E": 8600, "c": 0.00001, "s": "β+γ"},
      {"E": 8625, "c": 0.0000175, "s": "β+γ"}, {"E": 8650, "c": 0.000013, "s": "β+γ"}, {"E": 8675, "c": 0.0000205, "s": "β+γ"},
      {"E": 8700, "c": 0.0000078, "s": "β+γ"}, {"E": 8725, "c": 0.0000225, "s": "β+γ"}, {"E": 8750, "c": 0.000016, "s": "β+γ"},
      {"E": 8775, "c": 0.000011, "s": "β+γ"}, {"E": 8800, "c": 0.0000235, "s": "β+γ"}, {"E": 8825, "c": 0.0000132, "s": "β+γ"},
      {"E": 8850, "c": 0.000019, "s": "β+γ"}, {"E": 8875, "c": 0.0000103, "s": "β+γ"}, {"E": 8900, "c": 0.00002, "s": "β+γ"},
      {"E": 8925, "c": 0.0000138, "s": "β+γ"}, {"E": 8950, "c": 0.0000175, "s": "β+γ"}, {"E": 8975, "c": 0.0000089, "s": "β+γ"},
      {"E": 9000, "c": 0.000021, "s": "β+γ"}, {"E": 9025, "c": 0.000012, "s": "β+γ"}, {"E": 9050, "c": 0.000023, "s": "β+γ"},
      {"E": 9075, "c": 0.0000114, "s": "β+γ"}, {"E": 9100, "c": 0.000016, "s": "β+γ"}, {"E": 9125, "c": 0.0000051, "s": "β+γ"},
      {"E": 9150, "c": 0.00002, "s": "β+γ"}, {"E": 9175, "c": 0.0000122, "s": "β+γ"}, {"E": 9200, "c": 0.000006, "s": "β+γ"},
      {"E": 9225, "c": 0.000017, "s": "β+γ"}, {"E": 9250, "c": 0.000018, "s": "β+γ"}, {"E": 9275, "c": 0.0000098, "s": "β+γ"},
      {"E": 9300, "c": 0.000019, "s": "β+γ"}, {"E": 9325, "c": 0.0000038, "s": "β+γ"}, {"E": 9350, "c": 0.000022, "s": "β+γ"},
      {"E": 9375, "c": 0.0000104, "s": "β+γ"}, {"E": 9400, "c": 0.000016, "s": "β+γ"}, {"E": 9425, "c": 0.0000078, "s": "β+γ"},
      {"E": 9450, "c": 0.00002, "s": "β+γ"}, {"E": 9475, "c": 0.0000117, "s": "β+γ"}, {"E": 9500, "c": 0.0000029, "s": "β+γ"},
      {"E": 9525, "c": 0.0000147, "s": "β+γ"}, {"E": 9550, "c": 0.000009, "s": "β+γ"}, {"E": 9575, "c": 0.000019, "s": "β+γ"},
      {"E": 9600, "c": 0.000011, "s": "β+γ"}, {"E": 9625, "c": 0.000021, "s": "β+γ"}, {"E": 9650, "c": 0.0000103, "s": "β+γ"},
      {"E": 9675, "c": 0.000015, "s": "β+γ"}, {"E": 9700, "c": 0.0000056, "s": "β+γ"}, {"E": 9725, "c": 0.000019, "s": "β+γ"},
      {"E": 9750, "c": 0.0000117, "s": "β+γ"}, {"E": 9775, "c": 0.0000175, "s": "β+γ"}, {"E": 9800, "c": 0.0000093, "s": "β+γ"},
      {"E": 9825, "c": 0.0000156, "s": "β+γ"}, {"E": 9850, "c": 0.0000124, "s": "β+γ"}, {"E": 9875, "c": 0.000019, "s": "β+γ"},
      {"E": 9900, "c": 0.0000081, "s": "β+γ"}, {"E": 9925, "c": 0.000016, "s": "β+γ"}, {"E": 9950, "c": 0.00001, "s": "β+γ"},
      {"E": 9975, "c": 0.000017, "s": "β+γ"}, {"E": 10000, "c": 0.00001, "s": "β+γ"}
    ],
    "box": [
      {"E": 310, "E2": 1744, "c": 0.0000024, "c2": 0.0000164},
      {"E": 1744, "E2": 3527, "c": 0.0000024, "c2": 0.0000124}
    ],
    "boxjoin": [
      {"E": 1725, "E2": 1765, "c": 0.00000255, "c2": 0.0000118}
    ],
    "tl208": [
      {"E": 2615, "c": 0.000001, "c2": 520}
    ],
    "arrows": [
      {"a": "Te", "E": 2545, "c": 0.0000139, "c2": 0.00085, "tip": 0.00228},
      {"a": "Mo", "E": 3075, "c": 0.0000139, "c2": 0.0000547, "tip": 0.000112}
    ],
    "notes": [
      {"k": "tl_sup", "E": 1021, "c": 173, "t": "208"},
      {"k": "tl", "E": 1382, "c": 105.7, "t": "Tl-2615 keV γ"},
      {"k": "cuore", "E": 4212, "c": 110, "t": "CUORE Bkg model"},
      {"k": "te_sup", "E": 1770, "c": 0.000049, "t": "130"},
      {"k": "te", "E": 2003, "c": 0.0000254, "t": "Te"},
      {"k": "mo_sup", "E": 3234, "c": 0.0000258, "t": "100"},
      {"k": "mo", "E": 3514, "c": 0.0000149, "t": "Mo"}
    ]
  },
  "layer": [
    {
      "data": {"name": "total"},
      "mark": {"type": "line", "color": "#1b1b7d", "strokeWidth": 2.5},
      "encoding": {
        "x": {
          "field": "E",
          "type": "quantitative",
          "scale": {"domain": [0, 10000], "nice": false, "zero": false},
          "axis": {
            "orient": "bottom",
            "title": "Energy (keV)",
            "values": [0, 1000, 2000, 3000, 4000, 5000, 6000, 7000, 8000, 9000, 10000],
            "format": "d",
            "labelFontSize": 15,
            "labelOverlap": false,
            "labelFlush": false,
            "offset": -11,
            "tickSize": 11,
            "labelPadding": 5,
            "titlePadding": 2
          }
        },
        "y": {
          "field": "c",
          "type": "quantitative",
          "scale": {"type": "log", "domain": [0.000001, 1000], "nice": false},
          "axis": {
            "orient": "left",
            "title": "Counts/(keV kg yr)",
            "values": [0.000001, 0.00001, 0.0001, 0.001, 0.01, 0.1, 1, 10, 100, 1000],
            "labelExpr": "['10⁻⁶','10⁻⁵','10⁻⁴','10⁻³','10⁻²','10⁻¹','1','10','10²','10³'][round(log(datum.value)/LN10) + 6]",
            "labelFontSize": 16,
            "labelOverlap": false,
            "labelFlush": false,
            "offset": -20,
            "tickSize": 20,
            "labelPadding": 13,
            "titlePadding": 22
          }
        }
      }
    },
    {
      "data": {"name": "alpha"},
      "mark": {"type": "line", "strokeWidth": 2.8},
      "encoding": {
        "x": {"field": "E", "type": "quantitative", "axis": null},
        "y": {"field": "c", "type": "quantitative", "axis": null},
        "color": {
          "field": "s",
          "type": "nominal",
          "scale": {"domain": ["Total", "α", "β+γ"], "range": ["#000000", "#ff0000", "#0000ff"]},
          "legend": {
            "title": null,
            "labelExpr": "datum.label + '\u00a0\u00a0\u00a0\u00a0\u00a0\u00a0\u00a0\u00a0\u00a0\u00a0\u00a0\u00a0\u00a0\u00a0\u00a0\u00a0\u00a0\u200b'"
          }
        }
      }
    },
    {
      "data": {"name": "beta"},
      "mark": {"type": "line", "strokeWidth": 2.5},
      "encoding": {
        "x": {"field": "E", "type": "quantitative", "axis": null},
        "y": {"field": "c", "type": "quantitative", "axis": null},
        "color": {"field": "s", "type": "nominal"}
      }
    },
    {
      "data": {"name": "box"},
      "mark": {"type": "rect", "fill": "white", "stroke": "#bdbdbd", "strokeWidth": 1},
      "encoding": {
        "x": {"field": "E", "type": "quantitative", "axis": null},
        "x2": {"field": "E2"},
        "y": {"field": "c", "type": "quantitative", "axis": null},
        "y2": {"field": "c2"}
      }
    },
    {
      "data": {"name": "boxjoin"},
      "mark": {"type": "rect", "fill": "white", "strokeWidth": 0},
      "encoding": {
        "x": {"field": "E", "type": "quantitative", "axis": null},
        "x2": {"field": "E2"},
        "y": {"field": "c", "type": "quantitative", "axis": null},
        "y2": {"field": "c2"}
      }
    },
    {
      "data": {"name": "tl208"},
      "mark": {"type": "rule", "color": "#f53c22", "strokeWidth": 3, "strokeDash": [11, 5]},
      "encoding": {
        "x": {"field": "E", "type": "quantitative", "axis": null},
        "y": {"field": "c", "type": "quantitative", "axis": null},
        "y2": {"field": "c2"}
      }
    },
    {
      "data": {"name": "arrows"},
      "transform": [{"filter": "datum.a === 'Te'"}],
      "mark": {"type": "rule", "color": "#7d8cc4", "strokeWidth": 5},
      "encoding": {
        "x": {"field": "E", "type": "quantitative", "axis": null},
        "y": {"field": "c", "type": "quantitative", "axis": null},
        "y2": {"field": "c2"}
      }
    },
    {
      "data": {"name": "arrows"},
      "transform": [{"filter": "datum.a === 'Te'"}],
      "mark": {"type": "point", "shape": "M-1,2.2L0,0L1,2.2Z", "size": 400, "filled": true, "opacity": 1, "color": "#7d8cc4", "strokeWidth": 0},
      "encoding": {
        "x": {"field": "E", "type": "quantitative", "axis": null},
        "y": {"field": "tip", "type": "quantitative", "axis": null}
      }
    },
    {
      "data": {"name": "arrows"},
      "transform": [{"filter": "datum.a === 'Mo'"}],
      "mark": {"type": "rule", "color": "#7cbd7f", "strokeWidth": 4.5},
      "encoding": {
        "x": {"field": "E", "type": "quantitative", "axis": null},
        "y": {"field": "c", "type": "quantitative", "axis": null},
        "y2": {"field": "c2"}
      }
    },
    {
      "data": {"name": "arrows"},
      "transform": [{"filter": "datum.a === 'Mo'"}],
      "mark": {"type": "point", "shape": "M-1,2L0,0L1,2Z", "size": 289, "filled": true, "opacity": 1, "color": "#7cbd7f", "strokeWidth": 0},
      "encoding": {
        "x": {"field": "E", "type": "quantitative", "axis": null},
        "y": {"field": "tip", "type": "quantitative", "axis": null}
      }
    },
    {
      "data": {"name": "notes"},
      "transform": [{"filter": "datum.k === 'tl_sup'"}],
      "mark": {"type": "text", "align": "left", "baseline": "alphabetic", "font": "Liberation Sans", "fontSize": 17, "color": "#ff0000"},
      "encoding": {"x": {"field": "E", "type": "quantitative", "axis": null}, "y": {"field": "c", "type": "quantitative", "axis": null}, "text": {"field": "t"}}
    },
    {
      "data": {"name": "notes"},
      "transform": [{"filter": "datum.k === 'tl'"}],
      "mark": {"type": "text", "align": "left", "baseline": "alphabetic", "font": "Liberation Sans", "fontSize": 27, "color": "#ff0000"},
      "encoding": {"x": {"field": "E", "type": "quantitative", "axis": null}, "y": {"field": "c", "type": "quantitative", "axis": null}, "text": {"field": "t"}}
    },
    {
      "data": {"name": "notes"},
      "transform": [{"filter": "datum.k === 'cuore'"}],
      "mark": {"type": "text", "align": "left", "baseline": "alphabetic", "font": "Liberation Sans", "fontSize": 29, "color": "#000000"},
      "encoding": {"x": {"field": "E", "type": "quantitative", "axis": null}, "y": {"field": "c", "type": "quantitative", "axis": null}, "text": {"field": "t"}}
    },
    {
      "data": {"name": "notes"},
      "transform": [{"filter": "datum.k === 'te_sup'"}],
      "mark": {"type": "text", "align": "left", "baseline": "alphabetic", "font": "Liberation Sans", "fontSize": 12, "color": "#2e6fb0"},
      "encoding": {"x": {"field": "E", "type": "quantitative", "axis": null}, "y": {"field": "c", "type": "quantitative", "axis": null}, "text": {"field": "t"}}
    },
    {
      "data": {"name": "notes"},
      "transform": [{"filter": "datum.k === 'te'"}],
      "mark": {"type": "text", "align": "left", "baseline": "alphabetic", "font": "Liberation Sans", "fontSize": 23, "color": "#2e6fb0"},
      "encoding": {"x": {"field": "E", "type": "quantitative", "axis": null}, "y": {"field": "c", "type": "quantitative", "axis": null}, "text": {"field": "t"}}
    },
    {
      "data": {"name": "notes"},
      "transform": [{"filter": "datum.k === 'mo_sup'"}],
      "mark": {"type": "text", "align": "left", "baseline": "alphabetic", "font": "Liberation Sans", "fontSize": 12, "color": "#22995a"},
      "encoding": {"x": {"field": "E", "type": "quantitative", "axis": null}, "y": {"field": "c", "type": "quantitative", "axis": null}, "text": {"field": "t"}}
    },
    {
      "data": {"name": "notes"},
      "transform": [{"filter": "datum.k === 'mo'"}],
      "mark": {"type": "text", "align": "left", "baseline": "alphabetic", "font": "Liberation Sans", "fontSize": 24, "color": "#22995a"},
      "encoding": {"x": {"field": "E", "type": "quantitative", "axis": null}, "y": {"field": "c", "type": "quantitative", "axis": null}, "text": {"field": "t"}}
    },
    {
      "data": {"name": "ymajor"},
      "mark": {"type": "rule", "color": "#000000", "strokeWidth": 1.8},
      "encoding": {
        "x": {"datum": 0, "type": "quantitative", "axis": null},
        "x2": {"datum": 258},
        "y": {"field": "v", "type": "quantitative", "axis": null}
      }
    },
    {
      "data": {"name": "yminor"},
      "mark": {"type": "rule", "color": "#000000", "strokeWidth": 1.6},
      "encoding": {
        "x": {"datum": 0, "type": "quantitative", "axis": null},
        "x2": {"datum": 129},
        "y": {"field": "v", "type": "quantitative", "axis": null}
      }
    },
    {
      "data": {"name": "xmajor"},
      "mark": {"type": "rule", "color": "#000000", "strokeWidth": 1.8},
      "encoding": {
        "x": {"field": "v", "type": "quantitative", "axis": null},
        "y": {"datum": 0.000001, "type": "quantitative", "axis": null},
        "y2": {"datum": 0.00000183}
      }
    },
    {
      "data": {"name": "xminor"},
      "mark": {"type": "rule", "color": "#000000", "strokeWidth": 1.6},
      "encoding": {
        "x": {"field": "v", "type": "quantitative", "axis": null},
        "y": {"datum": 0.000001, "type": "quantitative", "axis": null},
        "y2": {"datum": 0.00000139}
      }
    }
  ]
}
